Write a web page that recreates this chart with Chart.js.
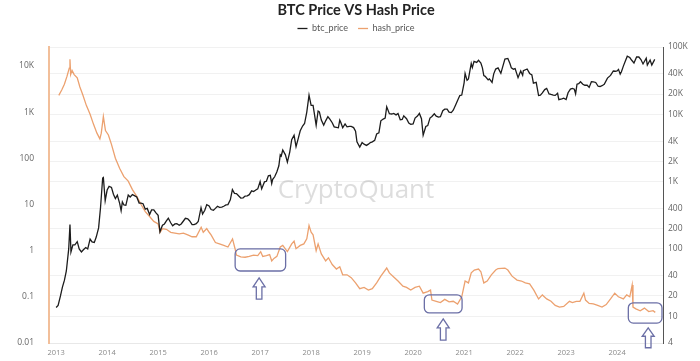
<!DOCTYPE html>
<html>
<head>
<meta charset="utf-8">
<script src="https://cdn.jsdelivr.net/npm/chart.js@4.4.1/dist/chart.umd.min.js"></script>
<style>
  html, body { margin: 0; padding: 0; background: #fff; }
  #wrap { width: 700px; height: 361px; position: relative; }
</style>
</head>
<body>
<div id="wrap"><canvas id="chart"></canvas></div>
<script>
// BTC Price VS Hash Price
var xYears = [2013, 2014, 2015, 2016, 2017, 2018, 2019, 2020, 2021, 2022, 2023, 2024];
var leftTicks = [0.01, 0.1, 1, 10, 100, 1000, 10000];
var rightTicks = [4, 10, 20, 40, 100, 200, 400, 1000, 2000, 4000, 10000, 20000, 40000, 100000];

var btcDates = [
  '2013-01-01','2013-01-15','2013-02-01','2013-02-15','2013-03-01','2013-03-15','2013-04-01','2013-04-10','2013-04-17','2013-05-01',
  '2013-05-15','2013-06-01','2013-06-15','2013-07-01','2013-07-15','2013-08-01','2013-08-15','2013-09-01','2013-09-15','2013-10-01',
  '2013-10-15','2013-11-01','2013-11-15','2013-11-30','2013-12-05','2013-12-18','2014-01-01','2014-01-15','2014-02-01','2014-02-15',
  '2014-03-01','2014-03-15','2014-04-01','2014-04-11','2014-04-20','2014-05-01','2014-05-15','2014-06-01','2014-06-15','2014-07-01',
  '2014-07-15','2014-08-01','2014-08-18','2014-09-01','2014-09-15','2014-10-01','2014-10-15','2014-11-01','2014-11-15','2014-12-01',
  '2014-12-15','2015-01-01','2015-01-14','2015-02-01','2015-02-15','2015-03-01','2015-03-15','2015-04-01','2015-04-15','2015-05-01',
  '2015-05-15','2015-06-01','2015-06-15','2015-07-01','2015-07-15','2015-08-01','2015-08-15','2015-09-01','2015-09-15','2015-10-01',
  '2015-10-15','2015-11-04','2015-11-15','2015-12-01','2015-12-15','2016-01-01','2016-01-15','2016-02-01','2016-02-15','2016-03-01',
  '2016-03-15','2016-04-01','2016-04-15','2016-05-01','2016-05-15','2016-06-01','2016-06-16','2016-07-01','2016-07-15','2016-08-01',
  '2016-08-15','2016-09-01','2016-09-15','2016-10-01','2016-10-15','2016-11-01','2016-11-15','2016-12-01','2016-12-15','2017-01-01',
  '2017-01-12','2017-02-01','2017-02-15','2017-03-01','2017-03-15','2017-03-25','2017-04-01','2017-04-15','2017-05-01','2017-05-15',
  '2017-05-25','2017-06-01','2017-06-12','2017-07-01','2017-07-15','2017-08-01','2017-08-15','2017-09-01','2017-09-15','2017-10-01',
  '2017-10-15','2017-11-01','2017-11-15','2017-12-01','2017-12-17','2018-01-01','2018-01-15','2018-02-06','2018-02-20','2018-03-01',
  '2018-03-15','2018-04-01','2018-04-15','2018-05-01','2018-05-15','2018-06-01','2018-06-15','2018-07-01','2018-07-15','2018-07-25',
  '2018-08-01','2018-08-15','2018-09-01','2018-09-15','2018-10-01','2018-10-15','2018-11-01','2018-11-15','2018-11-25','2018-12-15',
  '2019-01-01','2019-01-15','2019-02-01','2019-02-15','2019-03-01','2019-03-15','2019-04-01','2019-04-15','2019-05-01','2019-05-15',
  '2019-06-01','2019-06-15','2019-06-26','2019-07-15','2019-08-01','2019-08-15','2019-09-01','2019-09-15','2019-10-01','2019-10-15',
  '2019-10-26','2019-11-15','2019-12-01','2019-12-15','2020-01-01','2020-01-15','2020-02-01','2020-02-15','2020-03-01','2020-03-13',
  '2020-04-01','2020-04-15','2020-05-01','2020-05-15','2020-06-01','2020-06-15','2020-07-01','2020-07-15','2020-08-01','2020-08-15',
  '2020-09-01','2020-09-15','2020-10-01','2020-10-15','2020-11-01','2020-11-15','2020-12-01','2020-12-15','2021-01-01','2021-01-08',
  '2021-01-22','2021-02-01','2021-02-21','2021-03-01','2021-03-13','2021-04-01','2021-04-14','2021-05-01','2021-05-12','2021-05-22',
  '2021-06-01','2021-06-22','2021-07-01','2021-07-20','2021-08-01','2021-08-15','2021-09-01','2021-09-21','2021-10-01','2021-10-20',
  '2021-11-10','2021-11-25','2021-12-05','2021-12-20','2022-01-01','2022-01-22','2022-02-10','2022-02-24','2022-03-01','2022-03-28',
  '2022-04-15','2022-05-01','2022-05-12','2022-06-01','2022-06-18','2022-07-01','2022-07-15','2022-08-01','2022-08-15','2022-09-01',
  '2022-09-15','2022-10-01','2022-10-15','2022-11-01','2022-11-10','2022-12-01','2022-12-15','2023-01-01','2023-01-15','2023-02-01',
  '2023-02-15','2023-03-01','2023-03-10','2023-03-20','2023-04-01','2023-04-14','2023-05-01','2023-05-15','2023-06-01','2023-06-15',
  '2023-07-01','2023-07-15','2023-08-01','2023-08-18','2023-09-01','2023-09-15','2023-10-01','2023-10-24','2023-11-15','2023-12-05',
  '2023-12-20','2024-01-01','2024-01-11','2024-01-23','2024-02-01','2024-02-15','2024-03-01','2024-03-14','2024-04-01','2024-04-15',
  '2024-05-01','2024-05-20','2024-06-05','2024-06-20','2024-07-05','2024-07-28','2024-08-05','2024-08-25','2024-09-06','2024-09-27'
];
var btcPrice = [
  13.5, 14.5, 20, 27, 34, 47, 100, 230, 90, 115,
  115, 128, 100, 90, 97, 105, 100, 140, 127, 125,
  150, 205, 420, 1130, 1150, 520, 750, 850, 820, 650,
  560, 630, 470, 370, 500, 450, 445, 630, 590, 640,
  620, 590, 480, 480, 470, 390, 400, 325, 380, 380,
  345, 315, 180, 225, 235, 260, 285, 245, 220, 235,
  237, 225, 235, 260, 285, 280, 260, 230, 230, 237,
  255, 410, 330, 375, 455, 435, 385, 375, 400, 430,
  415, 418, 430, 450, 455, 535, 760, 670, 665, 610,
  570, 575, 610, 615, 640, 730, 710, 750, 780, 1000,
  780, 990, 1010, 1220, 1240, 940, 1080, 1180, 1400, 1720,
  2500, 2400, 2950, 2500, 1950, 2750, 4200, 4900, 3300, 4400,
  5700, 6700, 7300, 10800, 19300, 13600, 13600, 6900, 11200, 10900,
  8200, 6900, 8000, 9200, 8500, 7500, 6500, 6400, 6300, 8200,
  7600, 6300, 7200, 6500, 6600, 6600, 6350, 5600, 3900, 3250,
  3800, 3600, 3450, 3600, 3800, 3900, 4100, 5100, 5300, 8000,
  8500, 8800, 12900, 10200, 10100, 10300, 9800, 10300, 8300, 8400,
  9500, 8600, 7400, 7100, 7200, 8800, 9400, 10300, 8600, 4900,
  6600, 6800, 8800, 9300, 10200, 9400, 9100, 9200, 11300, 11900,
  11900, 10800, 10600, 11500, 13800, 16000, 19000, 19300, 29400, 40500,
  32000, 33500, 57000, 49500, 61000, 59000, 63500, 57800, 49000, 37500,
  36700, 32500, 33500, 29800, 39900, 47000, 48800, 40600, 48200, 66000,
  67500, 57000, 49000, 46800, 47700, 35000, 44000, 38000, 44400, 47100,
  40500, 38500, 29000, 29800, 19000, 19300, 20800, 23300, 24300, 20100,
  19700, 19300, 19100, 20500, 16500, 17000, 17400, 16600, 20900, 23700,
  24300, 23600, 20200, 28000, 28500, 30500, 28000, 27000, 27000, 25100,
  30500, 30300, 29700, 26100, 25900, 26600, 27900, 34500, 37800, 44000,
  43600, 44100, 46500, 39500, 43000, 52000, 62500, 73000, 69700, 63500,
  58000, 71000, 71000, 65000, 56000, 68000, 54000, 64000, 54000, 65500
];

var hashDates = [
  '2013-01-20','2013-02-10','2013-03-01','2013-03-20','2013-04-05','2013-04-10','2013-04-15','2013-04-25','2013-05-10','2013-06-01',
  '2013-06-20','2013-07-10','2013-08-05','2013-09-01','2013-09-25','2013-10-20','2013-11-10','2013-11-20','2013-12-05','2013-12-20',
  '2014-01-10','2014-02-01','2014-03-01','2014-04-01','2014-05-01','2014-06-01','2014-07-01','2014-08-01','2014-09-01','2014-10-01',
  '2014-11-01','2014-12-01','2015-01-01','2015-01-15','2015-02-01','2015-03-01','2015-04-01','2015-05-01','2015-06-01','2015-07-01',
  '2015-08-01','2015-09-01','2015-10-01','2015-11-05','2015-11-20','2015-12-15','2016-01-01','2016-01-15','2016-02-15','2016-03-15',
  '2016-04-15','2016-05-15','2016-06-17','2016-07-05','2016-07-15','2016-08-15','2016-09-15','2016-10-15','2016-11-15','2016-12-15',
  '2017-01-05','2017-01-20','2017-02-15','2017-03-10','2017-03-25','2017-04-10','2017-05-01','2017-05-25','2017-06-12','2017-07-15',
  '2017-08-15','2017-09-01','2017-09-15','2017-10-15','2017-11-10','2017-12-01','2017-12-17','2018-01-01','2018-01-15','2018-02-06',
  '2018-02-20','2018-03-15','2018-04-15','2018-05-05','2018-06-01','2018-07-01','2018-07-25','2018-08-15','2018-09-15','2018-10-15',
  '2018-11-15','2018-12-15','2019-01-15','2019-02-15','2019-03-15','2019-04-15','2019-05-15','2019-06-26','2019-07-15','2019-08-15',
  '2019-09-15','2019-10-20','2019-11-15','2019-12-15','2020-01-15','2020-02-15','2020-03-13','2020-04-15','2020-05-05','2020-05-15',
  '2020-06-15','2020-07-15','2020-08-15','2020-09-15','2020-10-15','2020-11-15','2020-12-15','2021-01-08','2021-02-01','2021-02-21',
  '2021-03-15','2021-04-14','2021-05-01','2021-05-22','2021-06-15','2021-07-15','2021-08-15','2021-09-01','2021-10-20','2021-11-10',
  '2021-12-10','2022-01-15','2022-02-15','2022-03-15','2022-04-15','2022-05-15','2022-06-18','2022-07-15','2022-08-15','2022-09-15',
  '2022-10-15','2022-11-15','2022-12-15','2023-01-25','2023-02-15','2023-03-15','2023-04-10','2023-05-08','2023-05-20','2023-06-15',
  '2023-07-15','2023-08-15','2023-09-15','2023-10-15','2023-11-15','2023-12-15','2024-01-10','2024-02-15','2024-03-10','2024-04-01',
  '2024-04-18','2024-04-24','2024-05-15','2024-06-15','2024-07-15','2024-08-15','2024-09-15','2024-10-01'
];
var hashPrice = [
  2300, 3000, 4000, 6000, 9000, 14000, 6500, 8000, 6500, 5500,
  3500, 2400, 1400, 900, 550, 350, 263, 350, 800, 400,
  320, 200, 100, 60, 40, 32, 21, 15, 10, 7,
  5.5, 4.3, 3.8, 2.5, 3.0, 2.9, 2.5, 2.4, 2.3, 2.4,
  2.2, 2.0, 2.0, 3.2, 2.5, 3.0, 2.5, 2.2, 1.5, 1.4,
  1.3, 1.2, 1.8, 1.1, 0.8, 0.73, 0.72, 0.75, 0.8, 0.78,
  0.95, 0.75, 0.78, 0.82, 0.6, 0.68, 0.75, 1.2, 1.3, 0.95,
  1.4, 1.6, 1.1, 1.3, 1.4, 1.8, 3.5, 2.5, 2.2, 1.0,
  1.4, 0.85, 0.6, 0.7, 0.5, 0.4, 0.45, 0.3, 0.3, 0.26,
  0.2, 0.15, 0.16, 0.14, 0.15, 0.2, 0.28, 0.42, 0.33, 0.27,
  0.22, 0.17, 0.16, 0.14, 0.16, 0.17, 0.12, 0.13, 0.14, 0.085,
  0.08, 0.075, 0.088, 0.078, 0.08, 0.07, 0.1, 0.22, 0.2, 0.33,
  0.38, 0.4, 0.35, 0.2, 0.22, 0.3, 0.38, 0.41, 0.42, 0.38,
  0.28, 0.23, 0.22, 0.2, 0.19, 0.14, 0.09, 0.11, 0.09, 0.08,
  0.065, 0.06, 0.062, 0.08, 0.075, 0.08, 0.08, 0.12, 0.085, 0.072,
  0.07, 0.065, 0.06, 0.068, 0.09, 0.12, 0.1, 0.09, 0.11, 0.1,
  0.18, 0.06, 0.055, 0.05, 0.057, 0.048, 0.05, 0.046
];

// Anotaciones (recuadros y flechas) en unidades de datos: año y eje derecho
var boxYears = [[2016.51, 2017.50], [2020.22, 2020.96], [2024.22, 2024.88]];
var boxPrices = [[47, 100], [11.2, 20.8], [7.9, 15.8]];
var arrowYears = [2016.98, 2020.59, 2024.61];
var arrowPrices = [[18, 37], [4.4, 9.1], [3.4, 6.7]];

function toYear(s) {
  var d = Date.parse(s + 'T00:00:00Z');
  var y = new Date(d).getUTCFullYear();
  var a = Date.UTC(y, 0, 1), b = Date.UTC(y + 1, 0, 1);
  return y + (d - a) / (b - a);
}
function pts(dates, vals) {
  return dates.map(function (d, i) { return { x: toYear(d), y: vals[i] }; });
}
function fmtTick(v) {
  return v >= 1000 ? (v / 1000) + 'K' : String(v);
}

var negro = '#1c1c1c';
var naranja = '#eca16f';
var anotacion = '#6b6fa6';

// deja más aire bajo la leyenda sin moverla
var legendGap = {
  id: 'legendGap',
  afterInit: function (chart) {
    var lg = chart.legend;
    if (!lg) return;
    var fit = lg.fit;
    lg.fit = function () { fit.call(this); this.height += 4; };
  }
};

var watermark = {
  id: 'watermark',
  beforeDatasetsDraw: function (chart) {
    var a = chart.chartArea, ctx = chart.ctx;
    ctx.save();
    ctx.font = '26px "Open Sans", sans-serif';
    ctx.fillStyle = 'rgba(150,150,150,0.32)';
    ctx.textAlign = 'center';
    ctx.textBaseline = 'middle';
    ctx.fillText('CryptoQuant', (a.left + a.right) / 2, a.top + (a.bottom - a.top) * 0.485);
    ctx.restore();
  }
};

var marcas = {
  id: 'marcas',
  afterDraw: function (chart) {
    var x = chart.scales.x, y = chart.scales.y1, ctx = chart.ctx;
    ctx.save();
    ctx.strokeStyle = anotacion;
    ctx.lineWidth = 1.3;
    boxYears.forEach(function (bx, i) {
      var x0 = x.getPixelForValue(bx[0]), x1 = x.getPixelForValue(bx[1]);
      var y0 = y.getPixelForValue(boxPrices[i][1]), y1 = y.getPixelForValue(boxPrices[i][0]);
      ctx.beginPath();
      ctx.roundRect(x0, y0, x1 - x0, y1 - y0, 5);
      ctx.stroke();
    });
    arrowYears.forEach(function (ay, i) {
      var cx = x.getPixelForValue(ay);
      var top = y.getPixelForValue(arrowPrices[i][1]);
      var bot = y.getPixelForValue(arrowPrices[i][0]);
      var head = (bot - top) * 0.42, hw = 6, sw = 2.8;
      ctx.beginPath();
      ctx.moveTo(cx, top);
      ctx.lineTo(cx + hw, top + head);
      ctx.lineTo(cx + sw, top + head);
      ctx.lineTo(cx + sw, bot);
      ctx.lineTo(cx - sw, bot);
      ctx.lineTo(cx - sw, top + head);
      ctx.lineTo(cx - hw, top + head);
      ctx.closePath();
      ctx.stroke();
    });
    ctx.restore();
  }
};

new Chart(document.getElementById('chart'), {
  type: 'line',
  data: {
    datasets: [{
      label: 'btc_price',
      data: pts(btcDates, btcPrice),
      borderColor: negro,
      backgroundColor: negro,
      borderWidth: 1.3,
      pointRadius: 0,
      tension: 0,
      yAxisID: 'y1'
    }, {
      label: 'hash_price',
      data: pts(hashDates, hashPrice),
      borderColor: naranja,
      backgroundColor: naranja,
      borderWidth: 1.3,
      pointRadius: 0,
      tension: 0,
      yAxisID: 'y'
    }]
  },
  options: {
    responsive: true,
    maintainAspectRatio: false,
    animation: false,
    parsing: false,
    layout: { padding: { top: 2, right: 0, bottom: 0, left: 0 } },
    plugins: {
      title: {
        display: true,
        fullSize: false,
        text: 'BTC Price VS Hash Price',
        color: '#222',
        font: { family: 'Lato, sans-serif', size: 14.5, weight: 'bold' },
        padding: { top: 0, bottom: -5.4 }
      },
      legend: {
        display: true,
        fullSize: false,
        labels: {
          usePointStyle: true,
          pointStyle: 'line',
          pointStyleWidth: 10,
          boxHeight: 9,
          color: '#555',
          padding: 10,
          font: { family: 'Lato, sans-serif', size: 9 }
        }
      },
      tooltip: { enabled: false }
    },
    scales: {
      x: {
        type: 'linear',
        min: 2012.86,
        max: 2024.9,
        afterBuildTicks: function (s) { s.ticks = xYears.map(function (v) { return { value: v }; }); },
        afterFit: function (s) { s.height = 18; },
        grid: { display: false, drawTicks: false },
        border: { color: '#e8e8e8' },
        ticks: {
          color: '#8a8a8a', padding: 5, maxRotation: 0, autoSkip: false,
          font: { family: '"Open Sans", sans-serif', size: 7.5 },
          callback: function (v) { return String(v); }
        }
      },
      y: {
        type: 'logarithmic',
        position: 'left',
        min: 0.01,
        max: 25700,
        afterBuildTicks: function (s) { s.ticks = leftTicks.map(function (v) { return { value: v }; }); },
        afterFit: function (s) { s.width = 49; },
        grid: { display: false },
        border: { color: '#f2bf9a', width: 2 },
        ticks: {
          color: '#666', padding: 7, autoSkip: false,
          font: { family: '"Open Sans", sans-serif', size: 8.5 },
          callback: fmtTick
        }
      },
      y1: {
        type: 'logarithmic',
        position: 'right',
        min: 4,
        max: 100000,
        afterBuildTicks: function (s) { s.ticks = rightTicks.map(function (v) { return { value: v }; }); },
        afterFit: function (s) { s.width = 37; },
        grid: { color: '#f1f1f1', drawTicks: false },
        border: { color: '#555', width: 1 },
        ticks: {
          color: '#666', padding: 5, autoSkip: false,
          font: { family: '"Open Sans", sans-serif', size: 8.5 },
          callback: fmtTick
        }
      }
    }
  },
  plugins: [legendGap, watermark, marcas]
});
</script>
</body>
</html>
